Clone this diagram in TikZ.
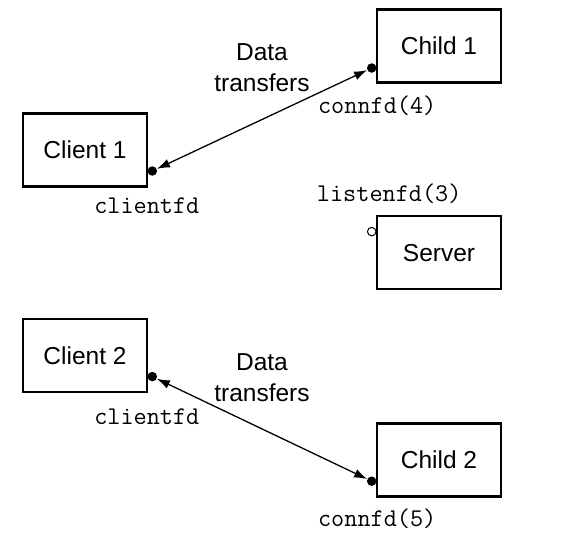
\documentclass[tikz,border=0pt]{standalone}
\usepackage{fontspec}
\setmainfont{Liberation Sans}
\usepackage{tikz}
\usetikzlibrary{arrows.meta, positioning}

\begin{document}
\begin{tikzpicture}[
    x=1pt, y=-1pt,
    proc/.style={draw, line width=2.6pt, minimum width=124pt, minimum height=73pt, font=\fontsize{24.5}{28}\selectfont},
    fdend/.style={circle, fill, inner sep=0pt, minimum size=9.5pt, outer sep=0pt},
    fdopen/.style={circle, draw, fill=white, line width=1pt, inner sep=0pt, minimum size=8.5pt, outer sep=0pt},
    fdlabel/.style={font=\fontsize{25.5}{30}\selectfont\ttfamily, anchor=base, inner sep=0pt},
    transfer/.style={{Latex[length=13pt,width=9pt]}-{Latex[length=13pt,width=9pt]}, line width=1.3pt, shorten <=0.3pt, shorten >=0.3pt},
    note/.style={font=\fontsize{24.5}{31}\selectfont, align=center, inner sep=0pt}
]
    \useasboundingbox (0,0) rectangle (562,542);

    % Nodes - right column
    \node[proc] (child1) at (439,46) {Child 1};
    \node[proc, below=131pt of child1] (server) {Server};
    \node[proc, below=132pt of server] (child2) {Child 2};

    % Nodes - left column
    \node[proc] (client1) at (85,150) {Client 1};
    \node[proc, below=130pt of client1] (client2) {Client 2};

    % Descriptors
    \node[fdend] (cfd1) at ([xshift=4pt, yshift=-21pt]client1.east) {};
    \node[fdend] (confd4) at ([xshift=-4pt, yshift=-22pt]child1.west) {};
    \node[fdopen] (lfd) at ([xshift=-4pt, yshift=21pt]server.west) {};
    \node[fdend] (cfd2) at ([xshift=4pt, yshift=-21pt]client2.east) {};
    \node[fdend] (confd5) at ([xshift=-4pt, yshift=-21pt]child2.west) {};

    % Descriptor labels
    \node[fdlabel] (cfd1txt) at ([xshift=-5.5pt, yshift=-42pt]cfd1.center) {clientfd};
    \node[fdlabel] (confd4txt) at ([xshift=5.5pt, yshift=-45pt]confd4.center) {connfd(4)};
    \node[fdlabel] (lfdtxt) at ([xshift=17.5pt, yshift=30pt]lfd.center) {listenfd(3)};
    \node[fdlabel] (cfd2txt) at ([xshift=-5.5pt, yshift=-48pt]cfd2.center) {clientfd};
    \node[fdlabel] (confd5txt) at ([xshift=5.5pt, yshift=-45pt]confd5.center) {connfd(5)};

    % Arrows
    \draw[transfer] (cfd1) -- (confd4) node[midway, above=27pt, note] {Data\\transfers};
    \draw[transfer] (cfd2) -- (confd5) node[midway, above=27pt, note] {Data\\transfers};
\end{tikzpicture}
\end{document}
